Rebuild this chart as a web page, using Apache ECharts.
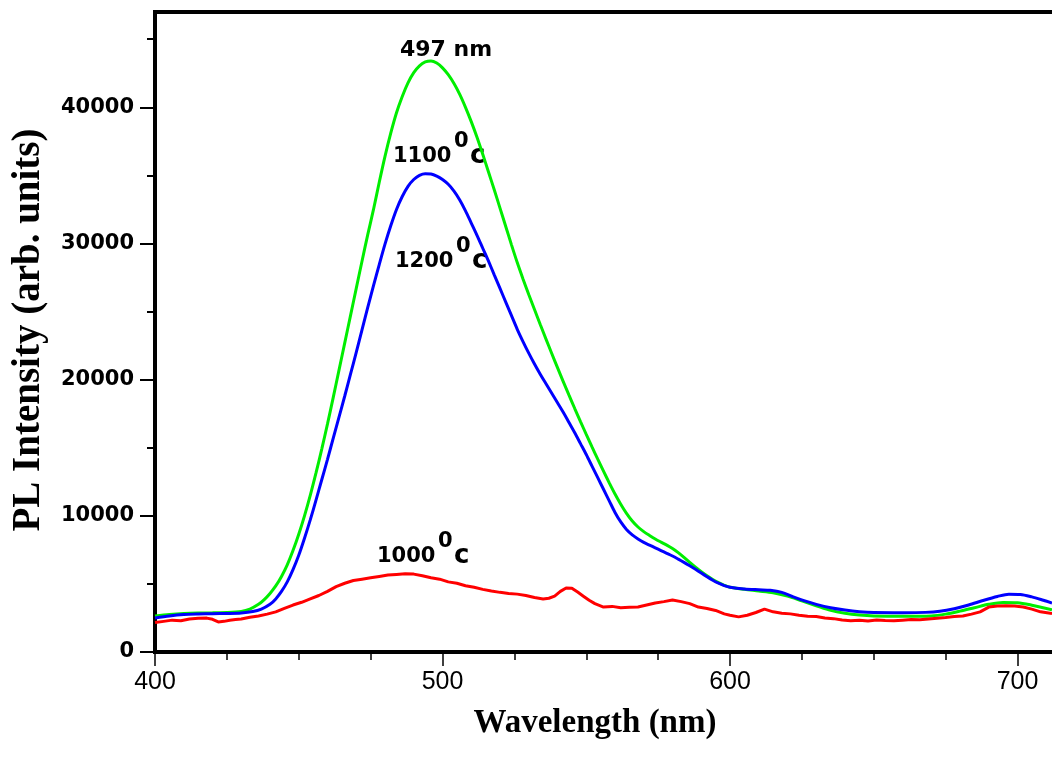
<!DOCTYPE html>
<html>
<head>
<meta charset="utf-8">
<title>PL spectra</title>
<script src="https://cdn.jsdelivr.net/npm/echarts@6/dist/echarts.min.js"></script>
<style>
  html, body { margin: 0; padding: 0; background: #fff; }
  #chart { width: 1052px; height: 764px; }
</style>
</head>
<body>
<div id="chart"></div>
<script>
// Photoluminescence spectra of samples annealed at three temperatures.

// Axis tick positions
const xMajorTicks = [400, 500, 600, 700];
const xMinorTicks = [425, 450, 475, 525, 550, 575, 625, 650, 675];
const yMajorTicks = [0, 10000, 20000, 30000, 40000];
const yMinorTicks = [5000, 15000, 25000, 35000, 45000];

// 1100 °C (green)
const nm1100 = [400, 405, 410, 415, 420, 425, 430, 433, 436, 438, 440, 442, 444, 446, 448, 450,
  452, 454, 456, 458, 460, 462, 464, 466, 468, 470, 472, 474, 476, 478, 480, 482, 484, 486, 488,
  490, 492, 494, 496, 498, 500, 502, 504, 506, 508, 510, 512, 514, 516, 518, 520, 522, 524, 526,
  528, 530, 532, 534, 536, 538, 540, 542, 544, 546, 548, 550, 552, 554, 556, 558, 560, 562, 564,
  566, 568, 570, 572, 574, 576, 578, 580, 582, 584, 586, 588, 590, 592, 594, 596, 598, 600,
  605, 610, 615, 620, 625, 630, 635, 640, 645, 650, 660, 670, 675, 680, 685, 690, 695, 700, 705, 712];
const pl1100 = [2650, 2750, 2820, 2860, 2880, 2900, 2980, 3150, 3500, 3850, 4300, 4850, 5550, 6400, 7450, 8650,
  10000, 11500, 13150, 14900, 16750, 18700, 20700, 22700, 24700, 26700, 28700, 30650, 32500, 34500, 36400, 38100, 39600, 40800, 41800,
  42550, 43050, 43330, 43400, 43250, 42900, 42400, 41750, 40950, 40000, 38950, 37800, 36550, 35250, 33950, 32600, 31250, 29900, 28600,
  27400, 26250, 25150, 24050, 22980, 21920, 20880, 19860, 18860, 17880, 16920, 15980, 15060, 14160, 13280, 12420, 11600, 10850, 10180,
  9620, 9180, 8840, 8560, 8300, 8070, 7850, 7600, 7300, 6950, 6580, 6230, 5900, 5600, 5330, 5100, 4900, 4750,
  4600, 4480, 4350, 4100, 3750, 3400, 3060, 2850, 2720, 2650, 2620, 2650, 2780, 3000, 3250, 3500, 3640, 3620, 3440, 3100];

// 1200 °C (blue)
const nm1200 = [400, 405, 410, 415, 420, 425, 430, 434, 437, 440, 442, 444, 446, 448, 450, 452,
  454, 456, 458, 460, 462, 464, 466, 468, 470, 472, 474, 476, 478, 480, 482, 484, 486, 488, 490,
  492, 494, 496, 498, 500, 502, 504, 506, 508, 510, 512, 514, 516, 518, 520, 522, 524, 526, 528,
  530, 532, 534, 536, 538, 540, 542, 544, 546, 548, 550, 552, 554, 556, 558, 560, 562, 564, 566,
  568, 570, 572, 574, 576, 578, 580, 582, 584, 586, 588, 590, 592, 594, 596, 598, 600,
  605, 610, 614, 618, 622, 626, 630, 635, 640, 645, 650, 660, 668, 673, 678, 683, 688, 693, 697,
  701, 705, 709, 712];
const pl1200 = [2500, 2650, 2750, 2790, 2810, 2830, 2870, 2970, 3150, 3500, 3900, 4450, 5150, 6050, 7100, 8350,
  9700, 11150, 12650, 14150, 15700, 17250, 18800, 20400, 22000, 23650, 25300, 26900, 28450, 29950, 31300, 32500, 33450, 34200, 34700,
  35000, 35120, 35100, 34950, 34700, 34350, 33850, 33200, 32400, 31500, 30600, 29650, 28700, 27700, 26700, 25700, 24700, 23700, 22800,
  21950, 21150, 20400, 19700, 19000, 18300, 17600, 16850, 16100, 15300, 14500, 13650, 12800, 11950, 11100, 10250, 9550, 9000, 8600,
  8300, 8050, 7850, 7650, 7450, 7250, 7050, 6820, 6580, 6330, 6070, 5800, 5530, 5270, 5050, 4880, 4760,
  4630, 4570, 4530, 4380, 4050, 3750, 3500, 3250, 3080, 2960, 2900, 2890, 2910, 2990, 3180, 3450, 3780, 4080, 4250,
  4230, 4050, 3800, 3600];

// 1000 °C (red)
const nm1000 = [400, 403, 406, 409, 412, 415, 418, 420, 422, 424, 426, 428, 430, 433, 436, 439,
  442, 445, 448, 451, 454, 457, 460, 463, 466, 469, 472, 475, 478, 481, 484, 487, 490, 493, 496,
  499, 502, 505, 508, 511, 514, 517, 520, 523, 526, 529, 532, 535, 537, 539, 541, 543, 545, 547,
  549, 551, 553, 556, 559, 562, 565, 568, 571, 574, 577, 580, 583, 586, 589, 592, 595, 598, 600,
  603, 606, 609, 612, 615, 618, 621, 624, 627, 630, 633, 636, 639, 642, 645, 648, 651, 654, 657,
  660, 663, 666, 669, 672, 675, 678, 681, 684, 687, 690, 693, 696, 699, 702, 705, 708, 712];
const pl1000 = [2160, 2250, 2340, 2300, 2420, 2480, 2490, 2400, 2210, 2250, 2330, 2380, 2420, 2550, 2650, 2780,
  2950, 3200, 3450, 3650, 3900, 4150, 4450, 4800, 5050, 5250, 5350, 5450, 5550, 5650, 5700, 5750, 5720, 5600, 5450,
  5350, 5150, 5050, 4870, 4750, 4600, 4480, 4380, 4300, 4250, 4150, 4000, 3900, 3950, 4100, 4450, 4700, 4680, 4400,
  4100, 3800, 3550, 3300, 3350, 3250, 3280, 3300, 3450, 3600, 3700, 3820, 3700, 3550, 3300, 3200, 3050, 2800, 2700,
  2580, 2700, 2900, 3150, 2950, 2850, 2800, 2700, 2620, 2600, 2500, 2450, 2350, 2300, 2330, 2280, 2350, 2320, 2300,
  2340, 2380, 2360, 2420, 2480, 2530, 2600, 2650, 2780, 2950, 3300, 3380, 3400, 3380, 3300, 3150, 2950, 2820];

const pairs = (xs, ys) => xs.map((x, i) => [x, ys[i]]);

const chart = echarts.init(document.getElementById('chart'), null, { renderer: 'canvas' });

const X_MIN = 400, X_MAX = 712, Y_MIN = 0, Y_MAX = 47000;
const axisBlack = { color: '#000', width: 4, cap: 'square' };

function tempLabel(x, y, digits) {
  const font = 'bold 21px "DejaVu Sans"';
  return {
    type: 'group', x: x, y: y,
    children: [
      { type: 'text', x: 0, y: 0, style: { text: digits, font: font, fill: '#000', align: 'left', verticalAlign: 'middle', textAlign: 'left', textVerticalAlign: 'middle' } },
      { type: 'text', x: 61, y: -15, style: { text: '0', font: font, fill: '#000', align: 'left', verticalAlign: 'middle', textAlign: 'left', textVerticalAlign: 'middle' } },
      { type: 'text', x: 77, y: -1, style: { text: 'c', font: 'bold 26px "DejaVu Sans"', fill: '#000', align: 'left', verticalAlign: 'middle', textAlign: 'left', textVerticalAlign: 'middle' } }
    ]
  };
}

chart.setOption({
  animation: false,
  backgroundColor: '#fff',
  grid: { left: 155, right: 0, top: 12, bottom: 112, containLabel: false },
  xAxis: [
    {
      type: 'value', position: 'bottom', min: X_MIN, max: X_MAX, interval: 100,
      axisLine: { show: true, onZero: false, lineStyle: axisBlack },
      axisTick: { show: true, inside: false, length: 14, customValues: xMajorTicks, lineStyle: { color: '#000', width: 1.5 } },
      axisLabel: { show: true, customValues: xMajorTicks, margin: 18, color: '#000', fontSize: 25, fontFamily: '"Liberation Sans", Arial, sans-serif',
        formatter: v => String(v) },
      splitLine: { show: false }
    },
    {
      type: 'value', position: 'bottom', min: X_MIN, max: X_MAX,
      axisLine: { show: false, onZero: false },
      axisTick: { show: true, inside: false, length: 8, customValues: xMinorTicks, lineStyle: { color: '#000', width: 1.5 } },
      axisLabel: { show: false },
      splitLine: { show: false }
    },
    {
      type: 'value', position: 'top', min: X_MIN, max: X_MAX,
      axisLine: { show: true, onZero: false, lineStyle: axisBlack },
      axisTick: { show: false },
      axisLabel: { show: false },
      splitLine: { show: false }
    }
  ],
  yAxis: [
    {
      type: 'value', position: 'left', min: Y_MIN, max: Y_MAX, interval: 10000,
      axisLine: { show: true, onZero: false, lineStyle: axisBlack },
      axisTick: { show: true, inside: false, length: 15, customValues: yMajorTicks, lineStyle: { color: '#000', width: 2 } },
      axisLabel: { show: true, customValues: yMajorTicks, margin: 21, color: '#000', fontSize: 21, fontWeight: 'bold', fontFamily: '"DejaVu Sans", sans-serif',
        formatter: v => String(v) },
      splitLine: { show: false }
    },
    {
      type: 'value', position: 'left', min: Y_MIN, max: Y_MAX,
      axisLine: { show: false, onZero: false },
      axisTick: { show: true, inside: false, length: 8, customValues: yMinorTicks, lineStyle: { color: '#000', width: 2 } },
      axisLabel: { show: false },
      splitLine: { show: false }
    }
  ],
  series: [
    {
      name: '1100 °C', type: 'line', xAxisIndex: 0, yAxisIndex: 0,
      data: pairs(nm1100, pl1100), showSymbol: false, smooth: 0.3,
      lineStyle: { color: '#00ee00', width: 3 }, itemStyle: { color: '#00ee00' }, z: 3
    },
    {
      name: '1200 °C', type: 'line', xAxisIndex: 0, yAxisIndex: 0,
      data: pairs(nm1200, pl1200), showSymbol: false, smooth: 0.3,
      lineStyle: { color: '#0000ff', width: 3 }, itemStyle: { color: '#0000ff' }, z: 4
    },
    {
      name: '1000 °C', type: 'line', xAxisIndex: 0, yAxisIndex: 0,
      data: pairs(nm1000, pl1000), showSymbol: false, smooth: false,
      lineStyle: { color: '#ff0000', width: 3 }, itemStyle: { color: '#ff0000' }, z: 5
    }
  ],
  graphic: [
    {
      type: 'text', x: 595, y: 723,
      style: { text: 'Wavelength (nm)', font: 'bold 33px "Liberation Serif", "Times New Roman", serif', fill: '#000', align: 'center', verticalAlign: 'middle', textAlign: 'center', textVerticalAlign: 'middle' }
    },
    {
      type: 'text', x: 29, y: 330, rotation: Math.PI / 2,
      style: { text: 'PL Intensity (arb. units)', font: 'bold 39px "Liberation Serif", "Times New Roman", serif', fill: '#000', align: 'center', verticalAlign: 'middle', textAlign: 'center', textVerticalAlign: 'middle' }
    },
    {
      type: 'text', x: 446, y: 50,
      style: { text: '497 nm', font: 'bold 22px "DejaVu Sans"', fill: '#000', align: 'center', verticalAlign: 'middle', textAlign: 'center', textVerticalAlign: 'middle' }
    },
    tempLabel(393, 157, '1100'),
    tempLabel(395, 262, '1200'),
    tempLabel(377, 557, '1000')
  ]
});
</script>
</body>
</html>
